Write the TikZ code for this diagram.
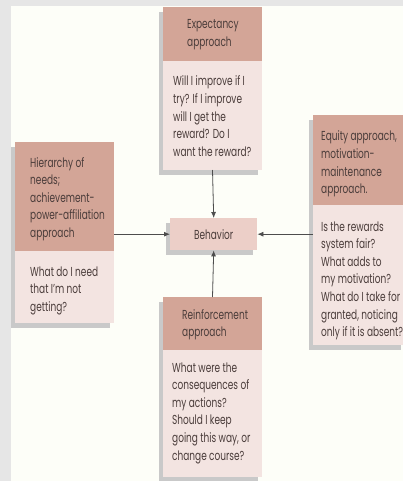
\documentclass[tikz,border=0pt]{standalone}
\usepackage{fontspec}
\setmainfont{Poppins}[FakeStretch=0.69]
\usetikzlibrary{arrows.meta,backgrounds}
\definecolor{bandgray}{HTML}{E6E6E6}
\definecolor{paper}{HTML}{FDFEF8}
\definecolor{headc}{HTML}{D3A597}
\definecolor{bodyc}{HTML}{F3E4E1}
\definecolor{behc}{HTML}{ECCFC8}
\definecolor{shadc}{HTML}{C9C9C9}
\definecolor{inkc}{HTML}{4A3C3A}
\definecolor{linec}{HTML}{4D4D4D}
\tikzset{
  headbox/.style={fill=headc,draw=none,inner sep=0,outer sep=0,anchor=north west},
  bodybox/.style={fill=bodyc,draw=none,inner sep=0,outer sep=0,anchor=north west},
  txt/.style={inner sep=0,anchor=base west,align=left,text=inkc,
    font=\fontsize{13}{17.6}\selectfont},
  conn/.style={draw=linec,line width=0.8pt,-{Latex[length=6pt,width=5pt]}},
  shad/.style={fill=shadc}
}
\begin{document}
\begin{tikzpicture}[x=1pt,y=-1pt]
\useasboundingbox (0,0) rectangle (403,481);
% boxes
\node[headbox,minimum width=99pt,minimum height=54pt] (tophead) at (163,7) {};
\node[bodybox,minimum width=99pt,minimum height=109pt] (topbody) at (163,61) {};
\node[headbox,minimum width=99pt,minimum height=109pt] (lefthead) at (15,142) {};
\node[bodybox,minimum width=99pt,minimum height=72pt] (leftbody) at (15,251) {};
\node[headbox,minimum width=92pt,minimum height=90pt] (righthead) at (313,115) {};
\node[bodybox,minimum width=92pt,minimum height=140pt] (rightbody) at (313,205) {};
\node[headbox,minimum width=99pt,minimum height=53pt] (bothead) at (163,297) {};
\node[bodybox,minimum width=99pt,minimum height=127pt] (botbody) at (163,350) {};
\node[fill=behc,inner sep=0,minimum width=87pt,minimum height=32pt,anchor=north west] (behavior) at (170,218) {};
\node[text=inkc,font=\fontsize{13}{14}\selectfont,inner sep=0] (behtext) at (behavior.center) {Behavior};
% texts (anchored at the baseline of the last line)
\node[txt] (t1) at (187,46.6) {Expectancy\\approach};
\node[txt] (t2) at (173,156.4) {Will I improve if I\\try? If I improve\\will I get the\\reward? Do I\\want the reward?};
\node[txt] (t3) at (30,237.4) {Hierarchy of\\needs;\\achievement-\\power-affiliation\\approach};
\node[txt] (t4) at (30,311.2) {What do I need\\that I'm not\\getting?};
\node[txt] (t5) at (321,193.8) {Equity approach,\\motivation-\\maintenance\\approach.};
\node[txt] (t6) at (321,336.6) {Is the rewards\\system fair?\\What adds to\\my motivation?\\What do I take for\\granted, noticing\\only if it is absent?};
\node[txt] (t7) at (182,336.6) {Reinforcement\\approach};
\node[txt] (t8) at (172,460) {What were the\\consequences of\\my actions?\\Should I keep\\going this way, or\\change course?};
% connectors
\draw[conn] (topbody.south) -- (behavior.north);
\draw[conn] (bothead.north) -- (behavior.south);
\draw[conn] (behavior.west -| lefthead.east) -- (behavior.west);
\draw[conn] (behavior.east -| righthead.west) -- (behavior.east);
% background and shadows
\begin{scope}[on background layer]
\fill[bandgray] (0,0) rectangle (403,481);
\fill[paper] (11,6) rectangle (403,481);
\fill[shad] ([shift={(-4,5)}]tophead.north west) rectangle ([shift={(-4,5)}]topbody.south east);
\fill[shad] ([shift={(-4,5)}]lefthead.north west) rectangle ([shift={(-4,5)}]leftbody.south east);
\fill[shad] ([shift={(-4,5)}]righthead.north west) rectangle ([shift={(-4,5)}]rightbody.south east);
\fill[shad] ([shift={(-4,5)}]bothead.north west) rectangle ([shift={(-4,5)}]botbody.south east);
\fill[shad] ([shift={(-4,5)}]behavior.north west) rectangle ([shift={(-4,5)}]behavior.south east);
\end{scope}
\end{tikzpicture}
\end{document}
